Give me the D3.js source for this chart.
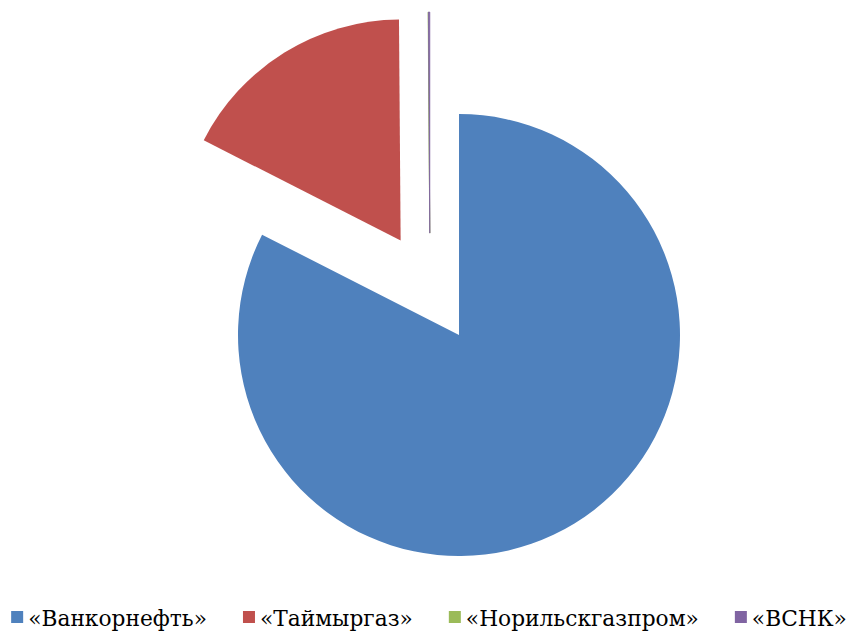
<!DOCTYPE html>
<html>
<head>
<meta charset="utf-8">
<script src="https://cdn.jsdelivr.net/npm/d3@7"></script>
<style>
  body { margin: 0; background: #fff; }
  svg { display: block; }
</style>
</head>
<body>
<div id="chart"></div>
<script>
// data
const companies = ["«Ванкорнефть»", "«Таймыргаз»", "«Норильскгазпром»", "«ВСНК»"];
const shares = [82.5, 17.38, 0.02, 0.1];
const colors = ["#4F81BD", "#C0504D", "#9BBB59", "#8064A2"];

// explosion of slices: distance in px, direction in degrees (null = along slice middle)
const explodeDist = [0, 111, 106, 106];
const explodeDir = [null, null, -16, -16];

let w = 858, h = 631;
let cx = 459, cy = 335, radius = 221;

let svg = d3.select("#chart").append("svg")
  .attr("width", w)
  .attr("height", h);

let pie = d3.pie().sort(null).value(d => d.value);
let arcs = pie(companies.map((c, i) => ({name: c, value: shares[i], i: i})));
let arc = d3.arc().innerRadius(0).outerRadius(radius);

svg.append("g")
  .attr("transform", `translate(${cx},${cy})`)
  .selectAll("path")
  .data(arcs)
  .enter()
  .append("path")
  .attr("d", arc)
  .attr("fill", d => colors[d.data.i])
  .attr("stroke", d => d.data.value < 1 ? colors[d.data.i] : "none")
  .attr("stroke-width", 0.8)
  .attr("transform", d => {
    let i = d.data.i;
    let a = explodeDir[i] == null ? (d.startAngle + d.endAngle) / 2 : explodeDir[i] * Math.PI / 180;
    let dx = explodeDist[i] * Math.sin(a);
    let dy = -explodeDist[i] * Math.cos(a);
    return `translate(${dx},${dy})`;
  });

// legend
let sq = 12, sqGap = 5, itemGap = 36;
let targetTextWidth = 660; // summed width of legend labels in the original
let legend = svg.append("g");
let items = legend.selectAll("g")
  .data(companies)
  .enter()
  .append("g");

items.append("rect")
  .attr("width", sq)
  .attr("height", sq)
  .attr("y", -15)
  .attr("fill", (d, i) => colors[i]);

let labels = items.append("text")
  .text(d => d)
  .attr("x", sq + sqGap)
  .attr("y", 0)
  .style("font-family", "DejaVu Serif, serif")
  .style("font-size", "26px")
  .attr("fill", "#000");

// fit font size to the label widths seen in the original
let sumW = 0;
labels.each(function() { sumW += this.getComputedTextLength(); });
let fontSize = 26 * targetTextWidth / sumW;
labels.style("font-size", fontSize + "px");

let xpos = [];
let total = 0;
items.each(function(d, i) {
  let tw = this.querySelector("text").getComputedTextLength();
  xpos.push(total);
  total += sq + sqGap + tw + (i < companies.length - 1 ? itemGap : 0);
});
let start = (w - total) / 2;
items.attr("transform", (d, i) => `translate(${start + xpos[i]},626)`);
</script>
</body>
</html>
